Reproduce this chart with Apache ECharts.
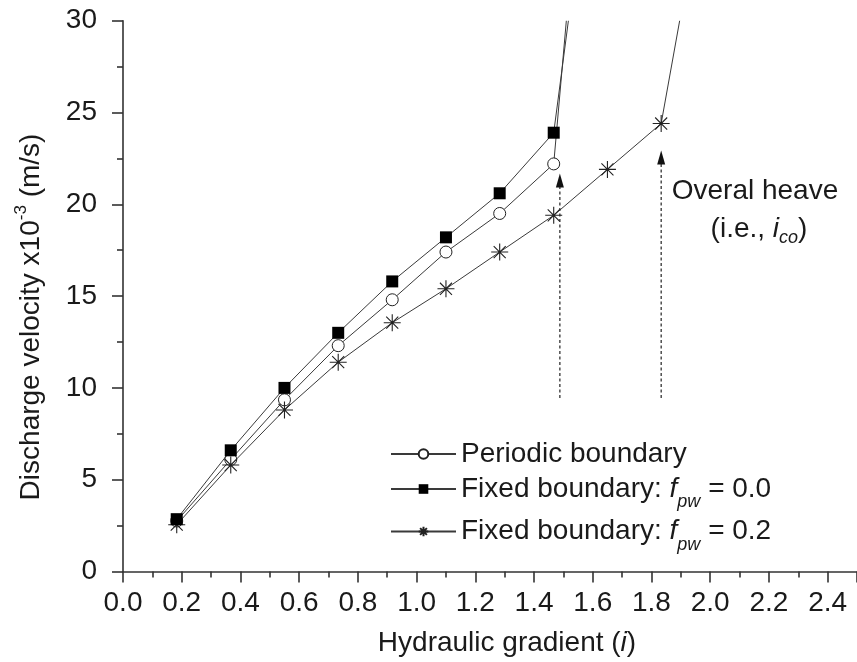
<!DOCTYPE html>
<html><head><meta charset="utf-8">
<script src="https://cdn.jsdelivr.net/npm/echarts@6/dist/echarts.min.js"></script>
<style>html,body{margin:0;padding:0;background:#fff}#c{width:857px;height:662px}</style>
</head><body><div id="c"></div>
<script>
// ---- data ----
const seriesNames = ['Periodic boundary', 'Fixed boundary: fpw = 0.0', 'Fixed boundary: fpw = 0.2'];
const gradient = [0.183, 0.367, 0.55, 0.733, 0.917, 1.1, 1.283, 1.467];
const gradientStar = [0.183, 0.367, 0.55, 0.733, 0.917, 1.1, 1.283, 1.467, 1.65, 1.833];
const periodic = [2.75, 6.1, 9.35, 12.3, 14.8, 17.4, 19.5, 22.2];
const fixed00 = [2.85, 6.6, 10.0, 13.0, 15.8, 18.2, 20.6, 23.9];
const fixed02 = [2.55, 5.8, 8.8, 11.4, 13.55, 15.4, 17.4, 19.4, 21.9, 24.4];
// heave branches leaving through the top of the plot
const periodicHeave = [1.51, 30];
const fixed00Heave = [1.517, 30];
const fixed02Heave = [1.896, 30];
// dotted arrows marking the heave gradient
const arrowX = [1.488, 1.833];
const arrowFrom = [9.45, 9.45];
const arrowTo = [21.3, 22.55];

// layout (pixels)
const legendRowTop = [440, 467, 509.5];

const FONT = "'Liberation Sans', Arial, sans-serif";
const TXT = '#1a1a1a';
const LINE = '#3a3a3a';

function build(xs, ys, end) {
  const d = xs.map((x, i) => [x, ys[i]]);
  d.push({ value: end, symbol: 'none' });
  return d;
}

const starPath = 'path://M0,-10L0,10M-10,0L10,0M-7.07,-7.07L7.07,7.07M-7.07,7.07L7.07,-7.07';

const richLegend = {
  t: { fontSize: 28, fontFamily: FONT, color: TXT, lineHeight: 30 },
  it: { fontSize: 28, fontFamily: FONT, color: TXT, fontStyle: 'italic', lineHeight: 30 },
  sub: { fontSize: 18, fontFamily: FONT, color: TXT, fontStyle: 'italic', lineHeight: 30, padding: [26, 0, 0, 0] }
};

const chart = echarts.init(document.getElementById('c'), null, { renderer: 'canvas' });

const series = [
  {
    name: seriesNames[0], type: 'line', data: build(gradient, periodic, periodicHeave),
    symbol: 'circle', symbolSize: 12,
    lineStyle: { color: LINE, width: 1 },
    itemStyle: { color: '#ffffff', borderColor: '#222', borderWidth: 1 },
    z: 3
  },
  {
    name: seriesNames[1], type: 'line', data: build(gradient, fixed00, fixed00Heave),
    symbol: 'rect', symbolSize: 12,
    lineStyle: { color: LINE, width: 1 },
    itemStyle: { color: '#000000', borderColor: '#000', borderWidth: 0 },
    z: 4
  },
  {
    name: seriesNames[2], type: 'line', data: build(gradientStar, fixed02, fixed02Heave),
    symbol: starPath, symbolSize: 17, symbolKeepAspect: true,
    lineStyle: { color: LINE, width: 1 },
    itemStyle: { color: 'rgba(0,0,0,0)', borderColor: '#222', borderWidth: 1.1 },
    z: 3
  }
];

arrowX.forEach((x, i) => {
  series.push({
    name: 'arrow' + i, type: 'line',
    data: [{ value: [x, arrowFrom[i]], symbol: 'none' },
           { value: [x, arrowTo[i]], symbol: 'triangle', symbolSize: [8, 14] }],
    lineStyle: { color: '#222', width: 1.2, type: [3, 2.5] },
    itemStyle: { color: '#111', borderWidth: 0 },
    silent: true, z: 2
  });
});

function legendLabel(name) {
  if (name === seriesNames[0]) return '{t|Periodic boundary}';
  const val = name.split('= ')[1];
  return '{t|Fixed boundary: }{it|f}{sub|pw}{t| = ' + val + '}';
}

chart.setOption({
  animation: false,
  backgroundColor: '#ffffff',
  grid: { left: 123, top: 20.7, bottom: 90.5, right: -5, containLabel: false },
  xAxis: {
    type: 'value', min: 0, max: 2.5, interval: 0.2,
    axisLine: { lineStyle: { color: '#333', width: 1.6 } },
    axisTick: { length: 11, lineStyle: { color: '#333', width: 1.6 } },
    minorTick: { show: true, splitNumber: 2, length: 6, lineStyle: { color: '#333', width: 1.6 } },
    splitLine: { show: false },
    axisLabel: { color: TXT, fontSize: 28, fontFamily: FONT, margin: 18, showMaxLabel: false,
      formatter: v => v.toFixed(1) }
  },
  yAxis: {
    type: 'value', min: 0, max: 30, interval: 5,
    axisLine: { show: true, lineStyle: { color: '#333', width: 1.6 } },
    axisTick: { show: true, length: 11, lineStyle: { color: '#333', width: 1.6 } },
    minorTick: { show: true, splitNumber: 2, length: 6, lineStyle: { color: '#333', width: 1.6 } },
    splitLine: { show: false },
    axisLabel: { color: TXT, fontSize: 28, fontFamily: FONT, margin: 26 }
  },
  legend: seriesNames.map((n, i) => ({
    data: [n],
    orient: 'vertical', left: 390, top: legendRowTop[i], padding: 0,
    itemWidth: 65, itemHeight: 12, itemGap: 0,
    textStyle: { fontSize: 28, fontFamily: FONT, color: TXT, rich: richLegend },
    formatter: legendLabel,
    selectedMode: false
  })),
  graphic: [
    {
      type: 'text', x: 31, y: 317, rotation: Math.PI / 2, silent: true,
      style: {
        text: '{t|Discharge velocity x10}{sup|-3}{t| (m/s)}',
        align: 'center', verticalAlign: 'middle',
        rich: {
          t: { fontSize: 28, fontFamily: FONT, fill: TXT, lineHeight: 34 },
          sup: { fontSize: 17, fontFamily: FONT, fill: TXT, lineHeight: 34, padding: [0, 0, 20, 0] }
        }
      }
    },
    {
      type: 'text', x: 507, y: 643, silent: true,
      style: {
        text: '{t|Hydraulic gradient (}{it|i}{t|)}',
        align: 'center', verticalAlign: 'middle',
        rich: {
          t: { fontSize: 28, fontFamily: FONT, fill: TXT, lineHeight: 34 },
          it: { fontSize: 28, fontFamily: FONT, fill: TXT, fontStyle: 'italic', lineHeight: 34 }
        }
      }
    },
    {
      type: 'text', x: 755, y: 191, silent: true,
      style: {
        text: 'Overal heave', align: 'center', verticalAlign: 'middle',
        fontSize: 28, fontFamily: FONT, fill: TXT
      }
    },
    {
      type: 'text', x: 759, y: 229, silent: true,
      style: {
        text: '{t|(i.e., }{it|i}{sub|co}{t|)}',
        align: 'center', verticalAlign: 'middle',
        rich: {
          t: { fontSize: 28, fontFamily: FONT, fill: TXT, lineHeight: 34 },
          it: { fontSize: 28, fontFamily: FONT, fill: TXT, fontStyle: 'italic', lineHeight: 34 },
          sub: { fontSize: 18, fontFamily: FONT, fill: TXT, fontStyle: 'italic', lineHeight: 34, padding: [18, 0, 0, 0] }
        }
      }
    }
  ],
  series: series
});
</script>
</body></html>
